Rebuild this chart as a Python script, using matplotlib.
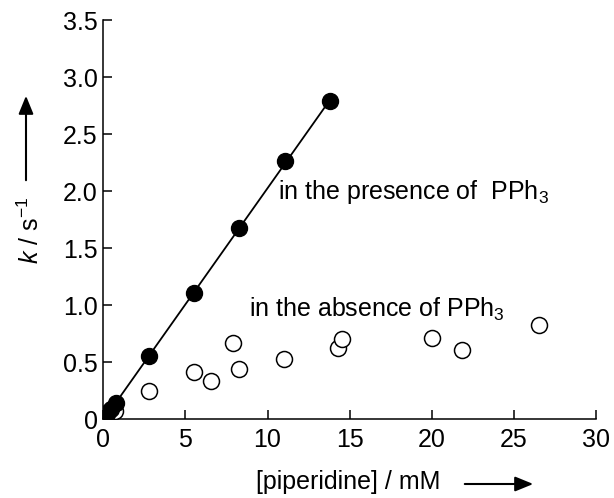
import numpy as np
import matplotlib
matplotlib.use("Agg")
from matplotlib import pyplot as plt

plt.rcParams['font.family'] = ['Liberation Sans', 'DejaVu Sans']
plt.rcParams['mathtext.fontset'] = 'custom'
plt.rcParams['mathtext.rm'] = 'Liberation Sans'
plt.rcParams['mathtext.it'] = 'Liberation Sans:italic'

# data
x_with = [0.15, 0.3, 0.5, 0.8, 2.80, 5.55, 8.27, 11.07, 13.81]
k_with = [0.03, 0.06, 0.09, 0.14, 0.556, 1.107, 1.675, 2.27, 2.79]

x_without = [0.2, 0.4, 0.7, 2.78, 5.54, 6.54, 7.88, 8.27, 11.03, 14.30, 14.55, 20.01, 21.86, 26.5]
k_without = [0.02, 0.04, 0.07, 0.251, 0.418, 0.339, 0.673, 0.439, 0.53, 0.624, 0.708, 0.717, 0.61, 0.831]

x_ticks = [0, 5, 10, 15, 20, 25, 30]
y_ticks = [0, 0.5, 1.0, 1.5, 2.0, 2.5, 3.0, 3.5]
y_ticklabels = ['0', '0.5', '1.0', '1.5', '2.0', '2.5', '3.0', '3.5']

fig = plt.figure(figsize=(6.14, 4.98), dpi=100)
ax = fig.add_axes([0.1682, 0.158, 0.8025, 0.8012])

# linear fit through the "with PPh3" points
slope, icpt = np.polyfit(x_with, k_with, 1)
xl = np.array([0.0, max(x_with)])
ax.plot(xl, slope * xl + icpt, color='black', lw=1.3, zorder=2)

ax.plot(x_without, k_without, 'o', ms=11.5, mfc='white', mec='black', mew=1.1, zorder=3)
ax.plot(x_with, k_with, 'o', ms=11.5, mfc='black', mec='black', zorder=4)

ax.text(10.65, 1.99, 'in the presence of  PPh$_3$', fontsize=18, va='center', ha='left')
ax.text(8.87, 0.96, 'in the absence of PPh$_3$', fontsize=18, va='center', ha='left')

ax.set_xlim(0, 30)
ax.set_ylim(0, 3.5)
ax.set_xticks(x_ticks)
ax.set_yticks(y_ticks)
ax.set_yticklabels(y_ticklabels)
ax.tick_params(direction='in', length=6.5, width=1.1, labelsize=18, pad=4)
ax.tick_params(axis='x', pad=6)
for s in ['top', 'right']:
    ax.spines[s].set_visible(False)
for s in ['left', 'bottom']:
    ax.spines[s].set_linewidth(1.1)

# axis labels with arrows
fig.text(348 / 614, 1 - 482 / 498, '[piperidine] / mM', fontsize=18, ha='center', va='center')
fig.patches.append(matplotlib.patches.FancyArrowPatch(
    (462 / 614, 1 - 484 / 498), (536 / 614, 1 - 484 / 498), transform=fig.transFigure,
    arrowstyle='-|>,head_length=11,head_width=4.5', color='black', lw=1.5, mutation_scale=1))

fig.text(31 / 614, 1 - 230 / 498, '$k$ / s$^{-1}$', fontsize=18, rotation=90, ha='center', va='center')
fig.patches.append(matplotlib.patches.FancyArrowPatch(
    (26 / 614, 1 - 183 / 498), (26 / 614, 1 - 93 / 498), transform=fig.transFigure,
    arrowstyle='-|>,head_length=11,head_width=4.5', color='black', lw=1.5, mutation_scale=1))

plt.savefig('out.png', dpi=100)
